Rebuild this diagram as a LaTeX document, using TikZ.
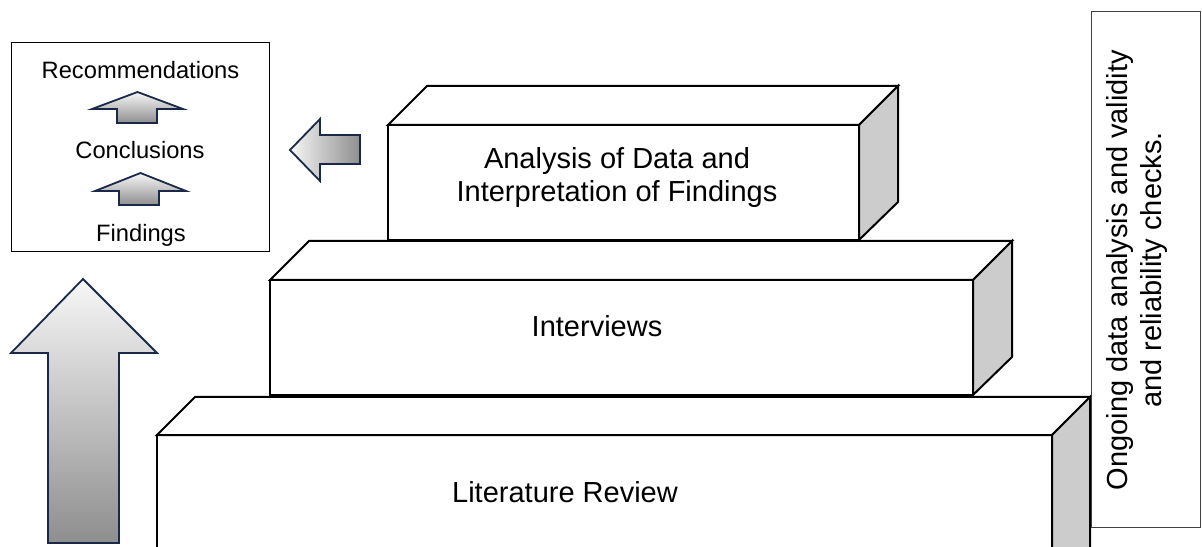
\documentclass[tikz,border=0pt]{standalone}
\usepackage{fontspec}
\setmainfont{Liberation Sans}
\definecolor{sidegray}{HTML}{CCCCCC}
\definecolor{navyline}{HTML}{1A2948}
\definecolor{shadelight}{HTML}{F7F7F7}
\definecolor{shadedark}{HTML}{8E8E8E}
\tikzset{
  face/.style={draw=black, line width=2bp, line join=miter, fill=white},
  sideface/.style={draw=black, line width=2bp, line join=miter, fill=sidegray},
  uparrow/.style={draw=navyline, line width=1.8bp, line join=miter,
    top color=shadelight, bottom color=shadedark},
  leftarrow/.style={draw=navyline, line width=1.8bp, line join=miter,
    left color=shadelight, right color=shadedark},
  biglabel/.style={font=\fontsize{29bp}{33bp}\selectfont, align=center, inner sep=0pt},
  smalllabel/.style={font=\fontsize{23.7bp}{27bp}\selectfont, inner sep=0pt},
  framebox/.style={draw=black, line width=1bp}
}
\begin{document}
\begin{tikzpicture}[x=1bp, y=-1bp]
\useasboundingbox (0,0) rectangle (1202,547);
\begin{scope}
\clip (0,0) rectangle (1202,547);

% bottom block: literature review
\path[face] (157,435) rectangle (1052,570);
\path[face] (157,435) -- (195,397) -- (1090,397) -- (1052,435) -- cycle;
\path[sideface] (1052,435) -- (1090,397) -- (1090,570) -- (1052,570) -- cycle;
\node[biglabel] (lit) at (565,492.5) {Literature Review};

% middle block: interviews
\path[face] (270,280) rectangle (973,395);
\path[face] (270,280) -- (309,241) -- (1012,241) -- (973,280) -- cycle;
\path[sideface] (973,280) -- (1012,241) -- (1012,357) -- (973,395) -- cycle;
\node[biglabel] (interviews) at (597,326) {Interviews};

% top block: analysis
\path[face] (388,125) rectangle (859,240);
\path[face] (388,125) -- (427,86) -- (898,86) -- (859,125) -- cycle;
\path[sideface] (859,125) -- (898,86) -- (898,202) -- (859,240) -- cycle;
\node[biglabel] (analysis) at (617,178) {Analysis of Data and\\Interpretation of Findings};

% large upward arrow on the left
\path[uparrow] (83,279) -- (157,353) -- (119,353) -- (119,543) -- (48,543)
  -- (48,353) -- (11,353) -- cycle;
\end{scope}

% outcomes box
\draw[framebox] (11,43) rectangle (269,252);
\node[smalllabel] (rec) at (140.5,70) {Recommendations};
\node[smalllabel] (concl) at (140,150) {Conclusions};
\node[smalllabel] (find) at (141,235) {Findings};
\path[uparrow] (137.5,92) -- (183,109) -- (157,109) -- (157,123) -- (117,123)
  -- (117,109) -- (92,109) -- cycle;
\path[uparrow] (140.5,173) -- (186,191) -- (159,191) -- (159,205) -- (119,205)
  -- (119,191) -- (95,191) -- cycle;

% arrow from the analysis block to the outcomes
\path[leftarrow] (290,150) -- (320,119) -- (320,135) -- (360,135) -- (360,164)
  -- (320,164) -- (320,181) -- cycle;

% ongoing checks box
\draw[framebox, draw=black!75] (1091,12) rectangle (1200,527);
\node[biglabel, rotate=90, font=\fontsize{29bp}{34bp}\selectfont] (checks) at (1137,270)
  {Ongoing data analysis and validity\\and reliability checks.};
\end{tikzpicture}
\end{document}
